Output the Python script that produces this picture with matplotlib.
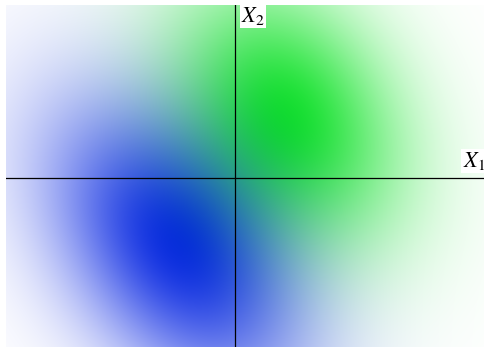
import numpy as np
import matplotlib.pyplot as plt

plt.rcParams['mathtext.fontset'] = 'stix'

# параметры двух классов: средние и обратные ковариационные матрицы
blue_mean = [-0.60, -0.70]
blue_prec = [[1.55, 0.60], [0.60, 1.20]]
green_mean = [0.55, 0.65]
green_prec = [[1.70, 0.45], [0.45, 1.30]]

blue_rgb = [0.08, 0.19, 0.90]
green_rgb = [0.12, 0.90, 0.20]

x_lim = [-2.29, 2.50]
y_lim = [-1.69, 1.73]


def density(xx, yy, mean, prec):
    dx = xx - mean[0]
    dy = yy - mean[1]
    q = prec[0][0] * dx * dx + 2 * prec[0][1] * dx * dy + prec[1][1] * dy * dy
    return np.exp(-0.5 * q)


xs = np.linspace(x_lim[0], x_lim[1], 480)
ys = np.linspace(y_lim[0], y_lim[1], 345)
xx, yy = np.meshgrid(xs, ys)

pb = density(xx, yy, blue_mean, blue_prec)
pg = density(xx, yy, green_mean, green_prec)

# вычитаем из белого вклад каждого класса
img = 1 - pb[..., None] * (1 - np.array(blue_rgb)) - pg[..., None] * (1 - np.array(green_rgb))
img = np.clip(img, 0, 1)

f = plt.figure(figsize=(4.85, 3.48), dpi=100)
ax = f.add_axes([6 / 485, 1 - 347 / 348, 479 / 485, 342 / 348])
ax.imshow(img, origin='lower', extent=[x_lim[0], x_lim[1], y_lim[0], y_lim[1]],
          aspect='auto', interpolation='bilinear')
ax.axhline(0, color='black', lw=0.9)
ax.axvline(0, color='black', lw=0.9)
ax.set_xlim(x_lim)
ax.set_ylim(y_lim)
ax.axis('off')

box = dict(facecolor='white', edgecolor='none', pad=1)
ax.text(0.06, 1.73, r'$X_2$', fontsize=16, ha='left', va='top', bbox=box, clip_on=False)
ax.text(2.50, 0.06, r'$X_1$', fontsize=16, ha='right', va='bottom', bbox=box, clip_on=False)

f.savefig('out.png', dpi=100)
